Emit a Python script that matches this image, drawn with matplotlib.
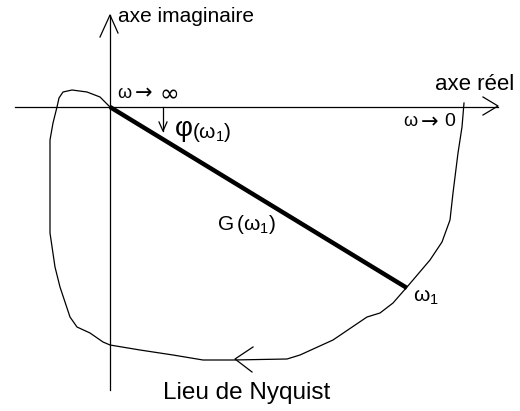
import numpy as np
import matplotlib.pyplot as plt

plt.rcParams['font.family'] = ['Liberation Sans', 'DejaVu Sans']
plt.rcParams['mathtext.fontset'] = 'custom'
plt.rcParams['mathtext.rm'] = 'Liberation Sans'
plt.rcParams['mathtext.it'] = 'Liberation Sans'

# hand-drawn Nyquist locus (from w -> 0 to w -> inf), pixel units, origin at axes crossing
nyq_re = [354, 352, 348, 343, 340, 332, 320, 303, 297, 283, 270, 257, 223, 190, 177,
          123, 93, 63, 30, 0, -7, -20, -33, -40, -50, -55, -60, -60, -60, -57, -53,
          -51, -47, -38, -23, -10, 0]
nyq_im = [4, -20, -46, -86, -113, -135, -153, -173, -180, -196, -206, -210, -233, -248,
          -252, -253, -253, -248, -243, -238, -235, -226, -220, -210, -180, -160, -126,
          -93, -33, -16, 0, 9, 15, 17, 15, 10, 0]

# point G(w1)
w1_re, w1_im = 297, -181

fig = plt.figure(figsize=(5.2, 4.11), dpi=100)
ax = fig.add_axes([0, 0, 1, 1])
ax.set_xlim(-110, 410)
ax.set_ylim(-304, 107)
ax.axis('off')

lw = 0.9
# axes
ax.plot([-95, 388], [0, 0], color='black', lw=lw)
ax.plot([0, 0], [-283, 92], color='black', lw=lw)
ax.plot([373, 388, 373], [10, 1, -8], color='black', lw=lw)
ax.plot([-10, 0, 8], [70, 92, 74], color='black', lw=lw)

# locus and its direction arrow
ax.plot(nyq_re, nyq_im, color='black', lw=lw)
ax.plot([143, 125, 142], [-240, -252, -265], color='black', lw=lw)

# vector G(w1)
ax.plot([0, w1_re], [0, w1_im], color='black', lw=3.2, solid_capstyle='butt')

# phase arrow
ax.plot([53, 53], [0, -24], color='black', lw=lw)
ax.plot([49, 53, 57], [-15, -24, -15], color='black', lw=lw)

tc = 'black'
dj = ['DejaVu Sans']
ax.text(8, 91, 'axe imaginaire', fontsize=15, color=tc, va='center', ha='left')
ax.text(7, 14, 'ω', fontsize=13, color=tc, va='center', ha='left')
ax.text(25, 14, '→', fontsize=15, color=tc, va='center', ha='left', family=dj)
ax.text(50, 13, '∞', fontsize=17, color=tc, va='center', ha='left', family=dj)
ax.text(65, -22, 'φ', fontsize=20, color=tc, va='center', ha='left')
ax.text(82, -25, r'$(\omega_1)$', fontsize=15, color=tc, va='center', ha='left')
ax.text(325, 22, 'axe réel', fontsize=16, color=tc, va='center', ha='left')
ax.text(293, -15, 'ω', fontsize=13, color=tc, va='center', ha='left')
ax.text(311, -15, '→', fontsize=15, color=tc, va='center', ha='left', family=dj)
ax.text(334, -15, '0', fontsize=14, color=tc, va='center', ha='left')
ax.text(107, -117, r'G$\,(\omega_1)$', fontsize=15, color=tc, va='center', ha='left')
ax.text(303, -190, r'$\omega_1$', fontsize=15, color=tc, va='center', ha='left')
ax.text(53, -286, 'Lieu de Nyquist', fontsize=17.5, color=tc, va='center', ha='left')

fig.savefig('out.png', dpi=100)
